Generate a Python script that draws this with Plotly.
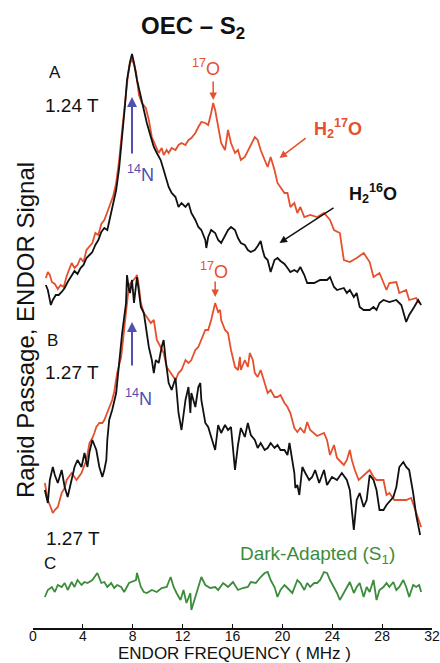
import plotly.graph_objects as go

# ---- Data (ENDOR frequency in MHz, signal in arbitrary offset units) ----
a_red_x = [1.03,1.19,1.35,1.51,1.75,1.99,2.22,2.46,2.70,2.86,3.10,3.33,3.57,3.81,4.05,4.29,4.53,4.76,5.00,5.24,5.48,5.72,5.96,6.19,6.43,6.67,6.91,7.15,7.38,7.62,7.78,7.94,8.10,8.26,8.50,8.73,9.05,9.29,9.53,9.85,10.08,10.32,10.48,10.72,10.88,11.12,11.43,11.67,11.91,12.23,12.47,12.70,13.02,13.26,13.50,13.82,14.05,14.29,14.45,14.61,14.85,15.09,15.40,15.64,15.88,16.20,16.44,16.67,16.99,17.39,17.79,18.02,18.26,18.58,18.82,19.06,19.37,19.61,19.85,20.17,20.41,20.64,20.96,21.20,21.44,21.76,22.23,22.79,23.34,23.82,24.14,24.61,24.93,25.41,25.96,26.52,27.00,27.31,27.79,28.11,28.35,28.58,29.14,29.38,29.93,30.17,30.73,30.97]
a_red_y = [350,356,353,346,344,339,343,341,352,358,365,360,363,370,366,378,382,385,395,393,404,408,416,423,432,445,468,498,528,553,565,568,564,556,533,525,520,508,491,481,475,480,473,478,475,480,478,483,485,483,488,490,495,501,506,505,503,515,525,518,501,485,478,498,485,475,478,468,471,481,491,488,478,468,461,471,458,445,441,435,435,421,425,415,421,411,413,411,415,408,398,395,368,366,370,375,366,351,355,345,338,345,346,335,338,328,330,325]

a_blk_x = [1.03,1.19,1.43,1.59,1.83,2.06,2.30,2.54,2.78,3.10,3.33,3.57,3.81,4.05,4.29,4.53,4.76,5.00,5.24,5.48,5.72,5.96,6.19,6.43,6.67,6.91,7.15,7.38,7.54,7.70,7.78,7.94,8.10,8.34,8.65,8.89,9.13,9.45,9.69,9.93,10.24,10.48,10.72,10.88,11.12,11.43,11.67,11.91,12.23,12.47,12.70,13.02,13.26,13.50,13.82,13.90,14.05,14.29,14.61,14.85,15.09,15.40,15.64,15.88,16.20,16.44,16.67,16.99,17.23,17.47,17.79,18.02,18.26,18.42,18.58,18.82,19.06,19.37,19.61,19.85,20.17,20.41,20.64,20.96,21.20,21.44,21.76,21.99,22.55,23.03,23.58,23.82,24.14,24.38,24.93,25.17,25.41,25.73,25.96,26.20,26.52,27.00,27.31,27.55,27.79,28.11,28.58,29.14,29.54,29.93,30.17,30.57,30.89,31.13]
a_blk_y = [343,338,323,328,333,333,336,340,346,353,357,354,360,363,370,373,376,383,388,396,400,398,410,423,438,460,490,523,548,562,566,574,565,548,531,518,505,491,481,475,468,458,448,441,435,431,421,425,421,425,415,408,401,398,388,380,391,398,395,388,385,393,398,401,398,390,385,383,378,376,378,382,387,378,371,368,356,368,370,367,364,360,356,358,356,361,353,345,345,348,348,351,341,338,340,335,338,331,335,321,318,318,321,318,325,328,326,328,323,306,313,321,328,323]

b_red_x = [0.95,1.19,1.35,1.59,1.75,1.99,2.30,2.54,2.70,3.10,3.49,3.89,4.13,4.29,4.53,4.76,4.92,5.08,5.32,5.56,5.72,5.96,6.11,6.35,6.51,6.75,7.07,7.31,7.54,7.70,7.86,8.10,8.26,8.34,8.50,8.65,8.89,9.13,9.45,9.69,9.93,10.24,10.48,10.72,11.04,11.28,11.43,11.67,11.91,12.23,12.47,12.70,13.02,13.26,13.50,13.82,14.05,14.29,14.61,14.69,14.85,15.01,15.09,15.40,15.64,15.88,16.20,16.44,16.60,16.67,16.99,17.23,17.39,17.63,17.79,18.02,18.26,18.58,18.82,19.06,19.37,19.61,19.85,20.17,20.41,20.64,20.80,20.96,21.20,21.44,21.76,21.99,22.23,22.55,22.79,23.34,23.58,23.82,24.14,24.38,24.93,25.17,25.41,25.57,25.81,26.12,26.52,27.00,27.31,27.55,28.11,28.35,28.58,28.98,29.38,29.93,30.33,30.57,30.89,31.13]
b_red_y = [145,128,123,115,118,121,135,140,148,155,148,155,163,168,185,190,195,201,205,205,208,215,221,228,236,255,271,301,328,343,345,348,351,353,341,325,315,311,305,308,288,281,275,261,255,251,248,255,258,268,265,268,278,281,288,298,298,308,325,321,316,318,308,298,295,278,261,258,271,258,268,261,275,268,255,251,258,245,235,238,231,231,233,225,221,215,208,200,196,200,195,206,198,195,192,195,188,173,183,170,163,168,178,168,158,148,153,158,151,148,148,133,135,128,128,128,130,121,111,101]

b_blk_x = [0.95,1.19,1.35,1.59,1.75,1.99,2.30,2.54,2.78,3.10,3.33,3.57,3.89,4.13,4.37,4.53,4.76,5.08,5.32,5.56,5.72,5.88,5.96,6.11,6.35,6.67,6.91,7.15,7.46,7.54,7.70,7.78,7.94,8.10,8.34,8.50,8.65,8.89,9.05,9.29,9.53,9.69,9.85,10.08,10.32,10.48,10.64,10.88,11.12,11.43,11.67,11.91,12.23,12.47,12.62,12.70,13.02,13.26,13.42,13.50,13.82,14.05,14.29,14.61,14.85,15.09,15.40,15.64,15.88,16.20,16.44,16.67,16.99,17.23,17.47,17.79,18.02,18.26,18.58,18.82,19.06,19.37,19.61,19.85,20.17,20.41,20.57,20.80,20.96,21.04,21.20,21.36,21.60,21.84,22.15,22.39,22.63,22.95,23.34,23.58,23.98,24.38,24.77,25.17,25.41,25.73,25.96,26.20,26.52,26.76,27.00,27.31,27.55,27.79,28.11,28.35,28.58,28.90,29.14,29.38,29.70,29.93,30.17,30.49,30.73,31.05]
b_blk_y = [138,125,148,161,153,145,158,141,131,148,161,168,161,175,161,176,188,178,161,151,158,168,188,208,218,235,268,295,325,353,338,335,348,325,351,333,321,315,301,281,268,255,268,265,281,288,268,245,238,250,215,198,228,241,215,235,221,241,245,228,205,201,191,178,203,195,203,198,201,158,183,200,191,205,193,188,180,185,178,180,185,180,183,178,178,173,185,168,155,140,143,133,161,155,148,151,158,145,158,143,151,148,155,148,138,98,128,135,121,128,153,148,138,118,118,123,126,131,141,161,166,161,158,135,113,93]

c_x = [0.95,1.19,1.51,1.75,1.99,2.30,2.54,2.78,3.10,3.33,3.57,3.89,4.13,4.37,4.76,5.16,5.48,5.72,5.96,6.27,6.51,6.75,7.07,7.31,7.70,7.94,8.26,8.34,8.65,8.89,9.13,9.53,9.93,10.32,10.72,11.04,11.28,11.51,11.83,12.07,12.31,12.62,12.70,13.02,13.26,13.50,13.82,14.21,14.61,14.85,15.25,15.64,16.04,16.44,16.83,17.23,17.47,17.87,18.26,18.58,18.82,19.06,19.37,19.61,19.85,20.17,20.41,20.80,21.20,21.44,21.76,21.99,22.23,22.55,22.79,23.03,23.34,23.58,23.82,24.14,24.38,24.61,24.93,25.17,25.41,25.73,25.96,26.20,26.52,26.76,27.00,27.31,27.55,27.79,28.11,28.35,28.58,28.90,29.14,29.38,29.70,29.93,30.17,30.49,30.73,30.97,31.13]
c_y = [31,38,41,36,43,41,45,38,46,41,48,43,46,45,48,55,45,46,41,45,40,43,41,36,45,46,48,55,41,36,35,38,36,40,41,51,41,35,28,38,25,35,18,31,41,51,43,40,41,38,45,41,46,38,40,41,46,45,51,55,56,48,41,31,38,43,40,35,48,45,38,45,41,45,45,48,56,55,48,41,35,28,35,41,46,35,41,45,31,41,36,48,28,38,41,45,41,46,38,41,48,41,31,43,41,43,36]

x_ticks = [0, 4, 8, 12, 16, 20, 24, 28, 32]

RED = "#e5502e"
BLACK = "#111111"
GREEN = "#3c8c3c"
BLUE = "#5050b0"
FONT = "Liberation Sans, Arial, sans-serif"

fig = go.Figure()
for xs, ys, col in [(a_red_x, a_red_y, RED), (a_blk_x, a_blk_y, BLACK),
                    (b_red_x, b_red_y, RED), (b_blk_x, b_blk_y, BLACK),
                    (c_x, c_y, GREEN)]:
    fig.add_trace(go.Scatter(x=xs, y=ys, mode="lines",
                             line=dict(color=col, width=1.8),
                             showlegend=False, hoverinfo="skip"))

def txt(x, y, s, size, color=BLACK, ref="data", **kw):
    xr, yr = ("x", "y") if ref == "data" else ("paper", "paper")
    fig.add_annotation(x=x, y=y, xref=xr, yref=yr, text=s, showarrow=False,
                       xanchor="center", yanchor="middle",
                       font=dict(size=size, color=color, family=FONT), **kw)

def arrow(x, y, ax, ay, color, width=2, head=2):
    fig.add_annotation(x=x, y=y, ax=ax, ay=ay, xref="x", yref="y",
                       axref="x", ayref="y", text="", showarrow=True,
                       arrowhead=head, arrowsize=1, arrowwidth=width,
                       arrowcolor=color)

txt(12.86, 601, "<b>OEC – S<sub>2</sub></b>", 24)
txt(1.75, 556, "A", 17)
txt(3.10, 523, "1.24 T", 19)
txt(1.59, 288, "B", 17)
txt(3.10, 256, "1.27 T", 19)
txt(3.18, 90, "1.27 T", 19)
txt(1.35, 65, "C", 17)
txt(8.65, 455, "<sup>14</sup>N", 18, BLUE)
arrow(7.94, 531, 7.94, 473, BLUE)
txt(8.50, 231, "<sup>14</sup>N", 18, BLUE)
arrow(7.94, 306, 7.94, 261, BLUE)
txt(13.90, 561, "<sup>17</sup>O", 18, RED)
arrow(14.45, 528, 14.45, 548, RED, 1.5)
txt(14.53, 358, "<sup>17</sup>O", 18, RED)
arrow(14.61, 331, 14.61, 348, RED, 1.5)
txt(24.46, 500, "<b>H<sub>2</sub><sup>17</sup>O</b>", 18, RED)
arrow(19.77, 470, 21.99, 491, RED, 1.5)
txt(27.24, 435, "<b>H<sub>2</sub><sup>16</sup>O</b>", 18, BLACK)
arrow(19.77, 385, 24.22, 421, BLACK, 1.5)
txt(22.79, 73, "Dark-Adapted (S<sub>1</sub>)", 19, GREEN)
# axis titles placed in paper coordinates (outside the plotting area)
txt(-0.02, 0.4745, "Rapid Passage, ENDOR Signal", 24, ref="paper", textangle=-90)
txt(0.506, -0.0405, "ENDOR FREQUENCY ( MHz )", 17, ref="paper")

fig.update_layout(
    width=440, height=663,
    margin=dict(l=33, r=4, t=0, b=35),
    paper_bgcolor="white", plot_bgcolor="white",
    font=dict(family=FONT, color=BLACK),
    xaxis=dict(range=[0, 32], tickvals=x_ticks, ticktext=[str(t) for t in x_ticks],
               showgrid=False, zeroline=False, showline=True, linecolor=BLACK,
               linewidth=1.5, ticks="inside", ticklen=4, tickcolor=BLACK,
               ticklabeloverflow="allow", ticklabelstandoff=-6,
               tickfont=dict(size=14, color=BLACK, family=FONT)),
    yaxis=dict(range=[0, 628], visible=False),
)

fig.write_html("out.html")
